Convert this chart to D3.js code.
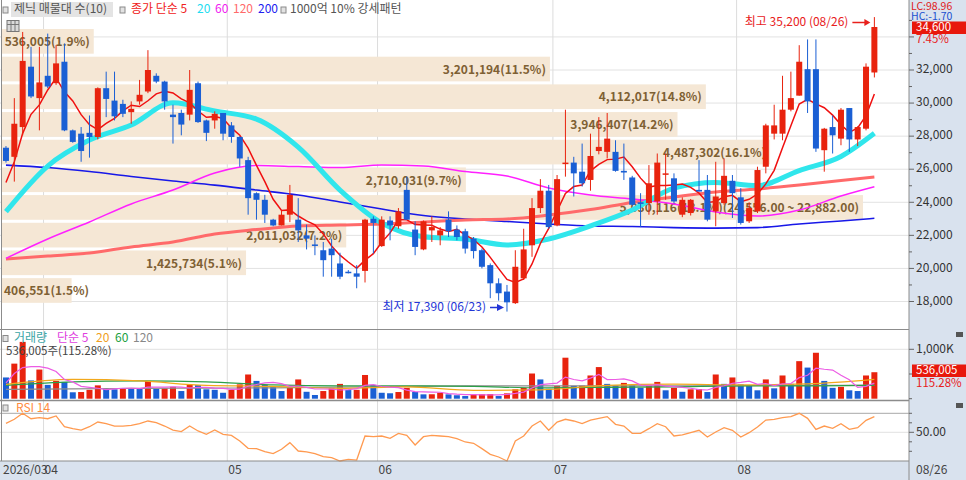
<!DOCTYPE html>
<html>
<head>
<meta charset="utf-8">
<script src="https://cdn.jsdelivr.net/npm/d3@7"></script>
<style>
  body { margin: 0; background: #fff; }
  svg text { font-family: "Noto Sans CJK KR", "Noto Sans", sans-serif; font-size: 12px; }
</style>
</head>
<body>
<svg id="svg" width="966" height="480"></svg>
<script>
/* 날짜 (2026) */
var year = '2026';
var dates = ["03/25","03/26","03/27","03/30","03/31",
  "04/01","04/02","04/03","04/06","04/07","04/08","04/09","04/10","04/13","04/14","04/15","04/16","04/17","04/20","04/21","04/22","04/23","04/24","04/27","04/28","04/29","04/30",
  "05/04","05/06","05/07","05/08","05/11","05/12","05/13","05/14","05/15","05/18","05/19","05/20","05/21","05/22","05/26","05/27","05/28","05/29",
  "06/01","06/02","06/04","06/05","06/08","06/09","06/10","06/11","06/12","06/15","06/16","06/17","06/18","06/19","06/22","06/23","06/24","06/25","06/26","06/29","06/30",
  "07/01","07/02","07/03","07/06","07/07","07/08","07/09","07/10","07/13","07/14","07/15","07/16","07/20","07/21","07/22","07/23","07/24","07/27","07/28","07/29","07/30","07/31",
  "08/03","08/04","08/05","08/06","08/07","08/10","08/11","08/12","08/13","08/14","08/18","08/19","08/20","08/21","08/24","08/25","08/26"];

/* 캔들 */
var open = [27300,26750,28550,32200,30300,31650,31200,32500,28350,28150,
  28200,27950,30900,30150,29950,29450,30100,30700,31650,31300,
  29300,29400,29300,31200,28950,28950,29400,28650,27950,26550,
  24550,24150,22950,22600,23250,22950,22000,21450,21100,21200,
  20300,19800,19700,19850,23000,21350,22900,22550,24750,22350,
  21150,22300,22000,22950,22350,22250,21800,21100,20200,19100,
  18600,17900,19400,21400,23650,24700,22600,26350,26400,25850,
  25350,27100,27050,27050,25900,25500,24000,23950,24050,25700,
  25450,23250,23350,24750,24750,23450,23950,25300,24300,22850,
  23450,26150,28150,28150,29600,30450,32050,32050,27150,28550,
  27850,29700,27800,28450,31850];
var high = [27400,30300,34300,33400,33400,34200,33500,33600,28400,28550,
  29250,30950,31900,31900,30200,30100,31400,33200,31800,31350,
  29900,29600,32000,31300,29000,29500,29400,28850,28000,26750,
  24600,24450,23000,23500,25050,24250,22650,22000,21600,21800,
  20950,19900,20200,23000,23150,23150,23150,23650,25550,22850,
  22900,23150,22500,23450,22600,22400,21900,21200,20300,19400,
  19000,21100,22400,24250,25400,25050,25650,29600,26750,27550,
  28150,29150,29400,27750,27550,25600,24550,26250,26950,26950,
  25750,24300,24200,26550,25650,26450,26650,25650,24850,24000,
  26150,28750,29900,31650,31900,33500,33850,33850,28500,29250,
  29700,29700,28600,32400,35200];
var low = [26400,25250,28050,30300,28350,30900,31100,28300,27600,26450,
  26700,27800,29150,28950,29150,28750,29900,30600,31200,29600,
  27550,28050,28950,28800,27700,28450,27750,27600,26150,23250,
  22950,22750,22550,22600,22800,21600,21150,20800,19500,19500,
  19350,19700,18800,19150,20900,21300,21700,22400,22950,20800,
  21100,21600,21400,21900,21700,20900,20600,20000,18200,18050,
  17390,17850,19300,20700,23350,22400,22550,25550,24350,24950,
  24700,26900,26650,25850,25350,23800,22500,23250,23250,24150,
  23950,23100,23200,24650,22850,22550,23850,23050,22650,22750,
  23350,25750,27800,27750,29500,30450,29400,27050,25850,26950,
  27450,27050,27400,28350,31550];
var close = [26500,28750,32550,30400,31250,31000,32400,28350,27650,27100,
  27950,30900,30250,29200,29350,29650,30500,32000,31300,30100,
  29150,28700,30800,28850,28200,29350,28150,27950,26650,24250,
  24150,23250,22600,23250,24450,22300,21800,21400,20500,20800,
  19500,19750,19500,22950,22750,22950,22600,23450,22950,21300,
  22850,22500,22300,22250,21900,21200,21050,20100,19100,18500,
  17950,20100,21150,23650,24700,22500,25400,26400,25750,25150,
  26800,27350,27850,25900,25800,23850,23900,25150,26400,25750,
  24050,24150,24150,24650,22950,24350,25600,24550,22750,23650,
  25950,28650,28650,29600,30300,32500,30100,27250,28450,28050,
  29600,27800,28550,32200,34600];

/* 거래량 (천주) */
var volume = [430,710,1150,370,590,280,360,340,130,135,
  180,270,210,190,210,205,200,360,200,210,
  240,155,280,275,190,180,120,180,290,490,
  360,280,240,155,220,390,140,75,155,210,
  300,175,180,480,280,120,110,135,220,135,
  88,90,120,88,70,54,88,90,95,54,
  108,190,220,510,390,200,260,830,260,265,
  470,640,300,270,320,270,220,270,340,170,
  220,140,190,195,135,490,300,430,290,260,
  170,390,210,470,300,760,630,930,360,220,
  240,170,155,470,536];

/* 이동평균 (화면에서 읽은 값) */
var ma5Lead = [25200, 26450, 28170, 29320];
var maIdx = [0,5,10,15,20,25,30,35,40,45,50,55,60,65,70,75,80,85,90,95,100,104];
var ma20 = [23430,26190,27760,28670,30020,29520,29030,27340,24740,22750,21920,21780,21420,21780,22570,23530,24860,25200,25010,25920,26770,28170];
var ma60 = [20610,21780,22810,23900,24740,25770,26220,26160,26100,26250,26190,25860,25590,24860,24440,24200,23900,23410,23170,23530,24380,24940];
var ma120 = [20570,20750,20930,21300,21600,22080,22350,22570,22630,22690,22810,22930,22990,23230,23560,23990,24320,24620,24800,25040,25320,25530];
var ma200 = [26250,26100,25860,25560,25290,25040,24740,24440,24020,23590,23200,22990,22840,22690,22570,22540,22470,22440,22470,22690,22870,23030];

var volMa5Lead = [320, 510, 630, 650];
var volIdx = [0,8,16,24,32,40,48,56,64,72,80,88,96,104];
var volMa20 = [290,390,360,270,250,210,240,170,180,270,295,280,300,390];
var volMa60 = [270,340,360,340,280,260,260,250,220,230,240,260,260,270];
var volMa120 = [190,200,210,215,220,235,250,260,260,260,260,265,270,275];

var rsi = [59.4,63.7,70.0,64.3,65.4,64.3,67.2,55.9,53.8,52.4,
  55.9,60.8,59.1,56.6,56.6,57.3,59.1,61.9,60.1,56.6,
  52.4,50.7,56.6,51.4,47.9,52.4,47.9,46.8,40.8,33.1,
  32.8,29.6,27.5,32.1,39.1,30.3,29.3,27.5,24.3,23.3,
  19.8,21.5,20.8,46.1,45.4,46.1,43.7,48.9,46.8,36.6,
  45.4,46.8,46.1,45.4,43.3,39.8,38.4,32.8,26.8,24.0,
  19.8,40.8,46.1,56.6,61.9,52.1,60.8,63.7,61.9,59.1,
  62.9,64.7,66.5,58.4,56.6,48.9,48.9,53.8,59.1,55.9,
  46.1,47.2,49.6,52.1,45.1,50.3,54.9,52.1,45.1,49.6,
  55.6,62.9,63.7,65.4,66.5,70.0,64.7,53.1,56.6,54.2,
  59.1,53.1,54.9,62.6,66.5];

/* 매물대 (아래 -> 위) */
var profileEdges = [17860,19534,21208,22882,24556,26230,27904,29578,31252,32926,34600];
var profileVol = [406551,1425734,2011032,5030116,2710031,4487302,3946407,4112017,3201194,536005];
var profilePct = [1.5,5.1,7.2,18.1,9.7,16.1,14.2,14.8,11.5,1.9];

var priceTicks = [18000,20000,22000,24000,26000,28000,30000,32000,34000];

/* 기본 */
var s = d3.select('#svg');
var AX = 909;
var UP = '#e8230e', DOWN = '#1a5fd4';

var x = d3.scaleBand().domain(d3.range(dates.length)).range([1.8, 878.55]);
function cx(i) { return x(i) + x.step() / 2; }
var y = d3.scaleLinear().domain([18000, 32000]).range([301.5, 70]);
var yVol = d3.scaleLinear().domain([0, 1000]).range([398.7, 349.3]);
var yRsi = d3.scaleLinear().domain([50, 70]).range([432.3, 413.3]);
var wProfile = d3.scaleLinear().domain([0, d3.max(profileVol)]).range([0, 861]);
var fmt = d3.format(',');

function txt(g, px, py, str, color, anchor) {
  return g.append('text').attr('x', px).attr('y', py)
    .attr('dominant-baseline', 'middle')
    .attr('text-anchor', anchor || 'start')
    .attr('fill', color).text(str);
}
function icon(px, py) {
  s.append('rect').attr('x', px).attr('y', py).attr('width', 5).attr('height', 6)
    .attr('fill', '#e2e2e2').attr('stroke', '#8a8a8a').attr('stroke-width', 1);
}

// 배경
s.append('rect').attr('width', 966).attr('height', 480).attr('fill', '#fff');
s.append('rect').attr('x', AX).attr('y', 0).attr('width', 966 - AX).attr('height', 480).attr('fill', '#d9e2ee');
s.append('rect').attr('x', 0).attr('y', 461).attr('width', 966).attr('height', 19).attr('fill', '#d9e2ee');

// 격자
var grid = s.append('g');
grid.selectAll('line.h').data(priceTicks).enter().append('line')
  .attr('x1', 0).attr('x2', AX).attr('y1', function (d) { return y(d); }).attr('y2', function (d) { return y(d); })
  .attr('stroke', '#e2e2e2');

var monthStarts = d3.range(1, dates.length).filter(function (i) {
  return dates[i].slice(0, 2) !== dates[i - 1].slice(0, 2);
});
grid.selectAll('line.v').data(monthStarts).enter().append('line')
  .attr('x1', function (i) { return x(i); }).attr('x2', function (i) { return x(i); })
  .attr('y1', 0).attr('y2', 461).attr('stroke', '#dcdcdc');
grid.append('line').attr('x1', 0).attr('x2', AX).attr('y1', yVol(1000)).attr('y2', yVol(1000)).attr('stroke', '#e2e2e2');
grid.append('line').attr('x1', 0).attr('x2', AX).attr('y1', yRsi(50)).attr('y2', yRsi(50)).attr('stroke', '#e2e2e2');
grid.append('line').attr('x1', 0).attr('x2', AX).attr('y1', yRsi(70)).attr('y2', yRsi(70)).attr('stroke', '#a8a8a8');

// 매물대
var bands = profileVol.map(function (v, k) {
  return { v: v, pct: profilePct[k], lo: profileEdges[k], hi: profileEdges[k + 1] };
});
var maxV = d3.max(profileVol);
var gBand = s.append('g');
gBand.selectAll('rect').data(bands).enter().append('rect')
  .attr('x', 2)
  .attr('y', function (d) { return y(d.hi) + 2; })
  .attr('width', function (d) { return wProfile(d.v); })
  .attr('height', function (d) { return y(d.lo) - y(d.hi) - 3; })
  .attr('fill', '#f5e7d5');
gBand.selectAll('text').data(bands).enter().append('text')
  .attr('y', function (d) { return (y(d.hi) + y(d.lo)) / 2 + 2; })
  .attr('text-anchor', 'end').attr('dominant-baseline', 'middle')
  .attr('fill', '#7e6033').attr('font-weight', 'bold')
  .text(function (d) {
    var t = fmt(d.v) + '(' + d.pct.toFixed(1) + '%)';
    if (d.v === maxV) t += '(' + d3.format(',.2f')(d.hi) + ' ~ ' + d3.format(',.2f')(d.lo) + ')';
    return t;
  })
  .attr('x', function (d) {
    // 막대가 짧으면 왼쪽 끝에서 시작
    var w = this.getComputedTextLength();
    return Math.max(2 + wProfile(d.v) - 4, 4 + w);
  });

// 이동평균선
var lineMa = d3.line().x(function (d) { return cx(d[0]); }).y(function (d) { return y(d[1]); }).curve(d3.curveMonotoneX);
[[ma200, '#1818e8', 1.6], [ma120, '#ff6a6a', 3], [ma60, '#ff20ff', 1.5], [ma20, '#30e6ec', 5]].forEach(function (m) {
  s.append('path').datum(maIdx.map(function (i, k) { return [i, m[0][k]]; }))
    .attr('d', lineMa).attr('fill', 'none').attr('stroke', m[1]).attr('stroke-width', m[2])
    .attr('stroke-linejoin', 'round');
});
var ma5 = close.map(function (c, i) { return i < 4 ? ma5Lead[i] : d3.mean(close.slice(i - 4, i + 1)); });
s.append('path').datum(ma5.map(function (v, i) { return [i, v]; }))
  .attr('d', d3.line().x(function (d) { return cx(d[0]); }).y(function (d) { return y(d[1]); }))
  .attr('fill', 'none').attr('stroke', '#f01010').attr('stroke-width', 1.5);

// 캔들
var gC = s.append('g');
var idx = d3.range(dates.length);
function cc(i) { return close[i] >= open[i] ? UP : DOWN; }
gC.selectAll('line').data(idx).enter().append('line')
  .attr('x1', cx).attr('x2', cx)
  .attr('y1', function (i) { return y(high[i]); }).attr('y2', function (i) { return y(low[i]); })
  .attr('stroke', cc).attr('stroke-width', 1);
gC.selectAll('rect').data(idx).enter().append('rect')
  .attr('x', function (i) { return cx(i) - 3; }).attr('width', 6)
  .attr('y', function (i) { return y(Math.max(open[i], close[i])); })
  .attr('height', function (i) { return Math.max(1.5, Math.abs(y(open[i]) - y(close[i]))); })
  .attr('fill', cc);

// 최고/최저 표시
var iHi = d3.maxIndex(high), iLo = d3.minIndex(low);
var aHi = s.append('g');
txt(aHi, cx(iHi) - 26, 22.5, '최고 ' + fmt(high[iHi]) + ' (' + dates[iHi] + ')', '#e8201c', 'end');
aHi.append('line').attr('x1', cx(iHi) - 22).attr('x2', cx(iHi) - 8).attr('y1', 22.5).attr('y2', 22.5).attr('stroke', '#e8201c').attr('stroke-width', 1.5);
aHi.append('path').attr('d', 'M' + (cx(iHi) - 4) + ',22.5 L' + (cx(iHi) - 10) + ',19 L' + (cx(iHi) - 10) + ',26 Z').attr('fill', '#e8201c');
var aLo = s.append('g');
txt(aLo, cx(iLo) - 21, 307.5, '최저 ' + fmt(low[iLo]) + ' (' + dates[iLo] + ')', '#2335d6', 'end');
aLo.append('line').attr('x1', cx(iLo) - 17).attr('x2', cx(iLo) - 8).attr('y1', 307.5).attr('y2', 307.5).attr('stroke', '#2335d6').attr('stroke-width', 1.5);
aLo.append('path').attr('d', 'M' + (cx(iLo) - 3) + ',307.5 L' + (cx(iLo) - 10) + ',304 L' + (cx(iLo) - 10) + ',311 Z').attr('fill', '#2335d6');

// 거래량
var gV = s.append('g');
function vc(i) { return i > 0 && volume[i] > volume[i - 1] ? UP : DOWN; }
gV.selectAll('rect').data(idx).enter().append('rect')
  .attr('x', function (i) { return cx(i) - 3; }).attr('width', 6)
  .attr('y', function (i) { return yVol(volume[i]); })
  .attr('height', function (i) { return yVol(0) - yVol(volume[i]); })
  .attr('fill', vc);
var lineV = d3.line().x(function (d) { return cx(d[0]); }).y(function (d) { return yVol(d[1]); });
var volMa5 = volume.map(function (v, i) { return i < 4 ? volMa5Lead[i] : d3.mean(volume.slice(i - 4, i + 1)); });
[[volMa120, '#8c8c8c'], [volMa60, '#2ca048'], [volMa20, '#f2a81c']].forEach(function (m) {
  s.append('path').datum(volIdx.map(function (i, k) { return [i, m[0][k]]; }))
    .attr('d', lineV.curve(d3.curveMonotoneX)).attr('fill', 'none').attr('stroke', m[1]).attr('stroke-width', 1.2);
});
s.append('path').datum(volMa5.map(function (v, i) { return [i, v]; }))
  .attr('d', lineV.curve(d3.curveLinear)).attr('fill', 'none').attr('stroke', '#ec5ce4').attr('stroke-width', 1.2);

// RSI
s.append('path').datum(rsi.map(function (v, i) { return [i, v]; }))
  .attr('d', d3.line().x(function (d) { return cx(d[0]); }).y(function (d) { return yRsi(d[1]); }))
  .attr('fill', 'none').attr('stroke', '#ff9a50').attr('stroke-width', 1.3);

// 패널 경계
var bd = s.append('g').attr('stroke', '#8c8c8c');
bd.append('line').attr('x1', 0).attr('x2', AX).attr('y1', 329.5).attr('y2', 329.5);
bd.append('line').attr('x1', 0).attr('x2', AX).attr('y1', 400.5).attr('y2', 400.5).attr('stroke-width', 1.5);
bd.append('line').attr('x1', 0).attr('x2', AX).attr('y1', 461).attr('y2', 461).attr('stroke-width', 1.2);
bd.append('line').attr('x1', 1.5).attr('x2', 1.5).attr('y1', 0).attr('y2', 461);
bd.append('line').attr('x1', AX).attr('x2', AX).attr('y1', 0).attr('y2', 480);

// 오른쪽 축
var ax = s.append('g');
d3.range(18000, 35001, 1000).forEach(function (p) {
  var major = p % 2000 === 0;
  ax.append('line').attr('x1', AX).attr('x2', AX + (major ? 5 : 3)).attr('y1', y(p)).attr('y2', y(p)).attr('stroke', '#666');
});
priceTicks.filter(function (p) { return p < 34000; }).forEach(function (p) {
  txt(ax, 916, y(p), fmt(p), '#333');
});
[0, 500, 1000].forEach(function (v) {
  ax.append('line').attr('x1', AX).attr('x2', AX + (v === 1000 ? 5 : 3)).attr('y1', yVol(v)).attr('y2', yVol(v)).attr('stroke', '#666');
});
txt(ax, 916, yVol(1000), '1,000K', '#333');
[30, 40, 50, 60, 70].forEach(function (v) {
  ax.append('line').attr('x1', AX).attr('x2', AX + (v === 50 ? 5 : 3)).attr('y1', yRsi(v)).attr('y2', yRsi(v)).attr('stroke', '#666');
});
txt(ax, 916, yRsi(50), '50.00', '#333');

// 현재가 표시
var last = close.length - 1;
var chg = (close[last] / close[last - 1] - 1) * 100;
txt(s, 911, 7.5, 'LC:98.96', '#e0201c').style('font-size', '10.5px');
txt(s, 911, 17, 'HC:-1.70', '#2050d0').style('font-size', '10.5px');
s.append('rect').attr('x', 912).attr('y', 21.5).attr('width', 54).attr('height', 12.5).attr('fill', '#e8180c');
txt(s, 916, 28, fmt(close[last]), '#fff').style('font-size', '11.5px');
txt(s, 916, 40, chg.toFixed(2) + '%', '#e8201c').style('font-size', '11.5px');
var vLast = 536005;
s.append('rect').attr('x', 912).attr('y', 364.5).attr('width', 54).attr('height', 12.5).attr('fill', '#e8180c');
txt(s, 916, 371, fmt(vLast), '#fff').style('font-size', '11.5px');
txt(s, 916, 383.5, '115.28%', '#e8201c').style('font-size', '11.5px');
s.append('rect').attr('x', 956).attr('y', 332).attr('width', 7).attr('height', 5).attr('fill', '#555');
s.append('rect').attr('x', 956).attr('y', 403).attr('width', 7).attr('height', 5).attr('fill', '#555');

// 날짜 축
txt(s, 3, 471, year + '/' + dates[0].slice(0, 2), '#444');
monthStarts.forEach(function (i) { txt(s, x(i) + 1, 471, dates[i].slice(0, 2), '#444'); });
txt(s, 916, 471, dates[last], '#444');

// 범례 (가격)
s.append('rect').attr('x', 11).attr('y', 2).attr('width', 102).attr('height', 15).attr('fill', '#e4e4e4');
icon(3, 7);
txt(s, 14, 10, '제닉 매물대 수(10)', '#555');
icon(120, 7);
txt(s, 131, 10, '종가 단순 5', '#f02020');
txt(s, 197, 10, '20', '#22dcf0');
txt(s, 215, 10, '60', '#f020f0');
txt(s, 233, 10, '120', '#ff6a6a');
txt(s, 258, 10, '200', '#2020f0');
icon(281, 7);
txt(s, 290, 10, '1000억 10% 강세패턴', '#555');
s.append('rect').attr('x', 7).attr('y', 20.5).attr('width', 12).attr('height', 11).attr('fill', '#dadada').attr('stroke', '#777');
s.append('path').attr('d', 'M7,24.5 H19 M11,20.5 V31.5 M15,20.5 V31.5').attr('stroke', '#777').attr('fill', 'none');

// 범례 (거래량)
icon(3, 335.5);
txt(s, 14, 338.5, '거래량', '#3aa6a6');
txt(s, 57, 338.5, '단순 5', '#e040e0');
txt(s, 96, 338.5, '20', '#f0a020');
txt(s, 115, 338.5, '60', '#20a040');
txt(s, 133, 338.5, '120', '#888');
txt(s, 6, 352, fmt(vLast) + '주(115.28%)', '#444').style('font-size', '11.5px');

// 범례 (RSI)
icon(3, 405);
txt(s, 16, 408.5, 'RSI 14', '#ff8c40');
</script>
</body>
</html>
